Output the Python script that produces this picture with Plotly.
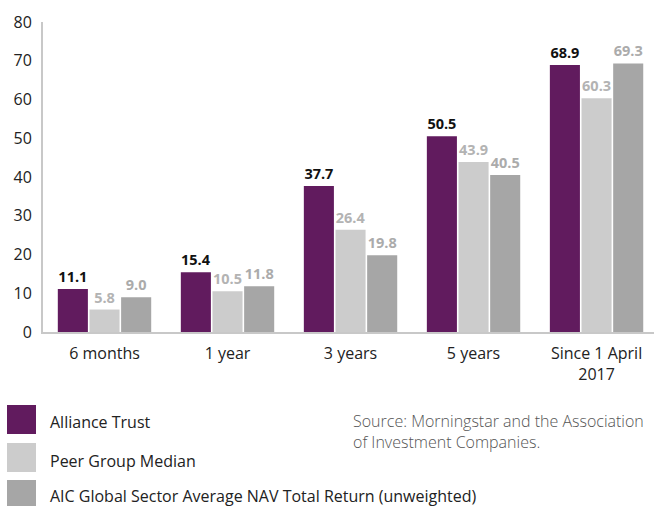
import plotly.graph_objects as go

categories = ["6 months", "1 year", "3 years", "5 years", "Since 1 April<br>2017"]
alliance = [11.1, 15.4, 37.7, 50.5, 68.9]
peer = [5.8, 10.5, 26.4, 43.9, 60.3]
aic = [9.0, 11.8, 19.8, 40.5, 69.3]
series_names = ["Alliance Trust", "Peer Group Median",
                "AIC Global Sector Average NAV Total Return (unweighted)"]
colors = ["#611b5e", "#cccccc", "#a6a6a6"]
label_colors = ["#111111", "#b3b3b3", "#ababab"]
y_ticks = [0, 10, 20, 30, 40, 50, 60, 70, 80]
source_text = "Source: Morningstar and the Association<br>of Investment Companies."

W, H = 654, 506
L, R, T, B = 43, 0, 22, 174
PW, PH = W - L - R, H - T - B

def px(x):
    return (x - L) / PW

def py(y):
    return (H - B - y) / PH

FONT = "Open Sans"

fig = go.Figure()
for vals, name, c, lc in zip([alliance, peer, aic], series_names, colors, label_colors):
    fig.add_trace(go.Bar(
        x=categories, y=vals, name=name, marker=dict(color=c, line=dict(width=0)),
        texttemplate="%{y:.1f}", textposition="outside", cliponaxis=False,
        textfont=dict(family=FONT, size=14.5, color=lc, weight="bold"),
        showlegend=False, hoverinfo="skip",
    ))

shapes = []
annotations = []
legend_rows = [(405, 434, 422), (443, 472, 461), (480, 509, 496)]
for (y0, y1, yc), name, c in zip(legend_rows, series_names, colors):
    shapes.append(dict(type="rect", xref="paper", yref="paper",
                       x0=px(7), x1=px(36), y0=py(y1), y1=py(y0),
                       fillcolor=c, line=dict(width=0)))
    annotations.append(dict(text=name, xref="paper", yref="paper",
                            x=px(48), y=py(yc), xanchor="left", yanchor="middle",
                            showarrow=False,
                            font=dict(family=FONT, size=16, color="#222222")))
annotations.append(dict(text=source_text, xref="paper", yref="paper",
                        x=px(351), y=py(431), xanchor="left", yanchor="middle",
                        align="left", showarrow=False,
                        font=dict(family=FONT, size=16, color="#555555", weight=300)))

fig.update_layout(
    width=W, height=H,
    margin=dict(l=L, r=R, t=T, b=B, autoexpand=False),
    paper_bgcolor="white", plot_bgcolor="white",
    barmode="group", bargap=0.228, bargroupgap=0.05,
    shapes=shapes, annotations=annotations,
    font=dict(family=FONT, color="#222222"),
)
fig.update_xaxes(
    range=[-0.5, 4.467], showline=True, linecolor="#c8c8c8", linewidth=2,
    ticks="", showgrid=False, ticklabelstandoff=6,
    tickfont=dict(family=FONT, size=16, color="#222222"),
)
fig.update_yaxes(
    range=[0, 80], tickvals=y_ticks, showline=True, linecolor="#c8c8c8", linewidth=2,
    showgrid=False, zeroline=False, ticks="", ticklabelstandoff=6,
    tickfont=dict(family=FONT, size=16, color="#222222"),
)
fig.write_html(
    "out.html",
    config={"displayModeBar": False},
    post_script="document.body.style.margin='0';document.body.style.padding='0';",
)
